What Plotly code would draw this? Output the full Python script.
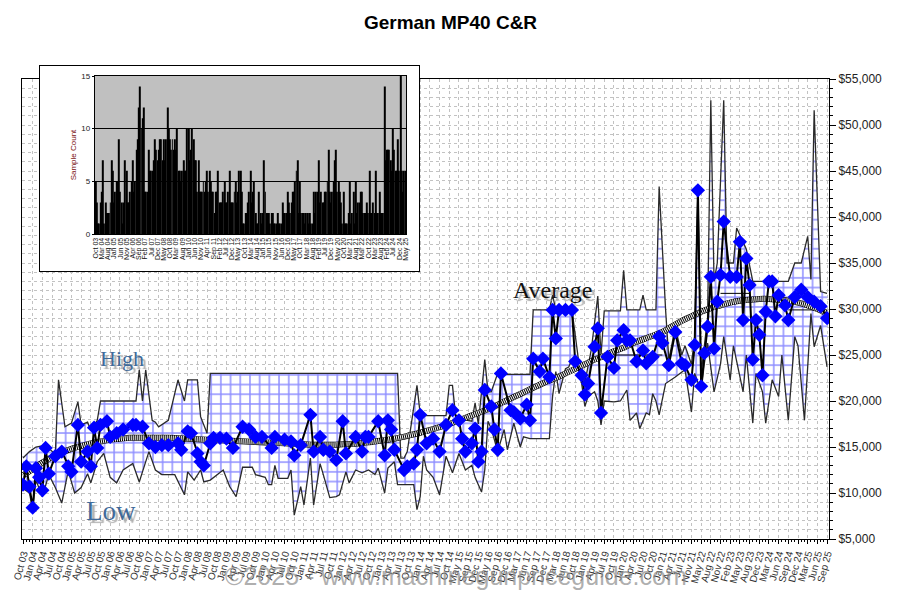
import plotly.graph_objects as go

# ---------------- data ----------------
x_labels = ["Oct 03","Jan 04","Apr 04","Jul 04","Oct 04","Jan 05","Apr 05","Jul 05","Oct 05","Jan 06","Apr 06","Jul 06",
            "Oct 06","Jan 07","Apr 07","Jul 07","Oct 07","Jan 08","Apr 08","Jul 08","Oct 08","Jan 09","Apr 09","Jul 09",
            "Oct 09","Jan 10","Apr 10","Jul 10","Oct 10","Jan 11","Apr 11","Jul 11","Oct 11","Jan 12","Apr 12","Jul 12",
            "Oct 12","Jan 13","Apr 13","Jul 13","Oct 13","Jan 14","Apr 14","Jul 14","Oct 14","May 15","Sep 15","Dec 15",
            "May 16","Sep 16","Dec 16","Mar 17","Jun 17","Sep 17","Dec 17","Mar 18","Jun 18","Oct 18","Jan 19","Apr 19",
            "Jul 19","Oct 19","Jan 20","Apr 20","Jul 20","Oct 20","Jan 21","Apr 21","Jul 21","Nov 21","May 22","Aug 22",
            "Nov 22","Feb 23","May 23","Aug 23","Dec 23","Mar 24","Jun 24","Sep 24","Dec 24","Mar 25","Jun 25","Sep 25"]
months_per_label = 3

# average sale price (period index, value)
avg_x = [0,1,2,3,4,5,6,7,8,10,12,14,15,17,18,20,21,22,23,24,26,27,29,31,34,35,37,39,41,43,45,48,49,51,52,54,55,56,58,59,
         61,63,65,68,70,72,74,77,78,81,83,84,86,89,90,92,93,95,97,99,100,103,105,106,107,110,112,113,114,115,118,119,121,
         122,123,125,127,129,131,133,135,136,137,139,140,141,142,143,145,146,147,148,151,152,154,156,157,158,160,161,163,
         164,165,166,168,170,171,173,174,175,177,178,179,181,183,184,186,187,188,190,192,193,195,197,198,200,202,204,205,
         207,208,209,210,211,212,213,214,215,216,217,219,221,222,223,224,225,226,227,228,229,230,231,232,233,234,236,237,
         239,241,243,245,247,249]
avg_v = [10900,12900,10700,8400,12700,11700,10300,14900,12100,14000,14500,12900,12300,17400,13400,14500,12900,17100,14900,17400,
         17800,16100,16500,16900,17400,17400,17200,15400,15000,15200,15200,15400,14700,16700,16500,14300,13400,13000,15400,16000,
         16000,15900,14900,17200,16900,16100,16100,14900,16100,15800,15600,14100,15200,18500,14500,16100,14700,14500,13600,17800,
         14300,16100,14500,16100,16100,17800,14100,17900,16900,14700,12500,12900,13200,14700,18500,15400,15900,14500,17400,19000,
         17900,15900,14500,15400,17000,13400,14500,21200,19400,16900,14700,23000,19000,18800,18100,19600,17900,24600,23200,24600,
         22600,29900,26800,29900,29900,29900,24300,22800,20700,21900,25900,27900,18700,24800,23600,26600,27700,26600,26600,24300,
         25500,24100,24800,27000,26300,23900,27500,24100,23900,22300,26100,42900,21600,25200,28100,33500,25700,30800,33700,39500,
         33500,33500,37300,28800,35500,32600,24500,28800,27200,22800,29700,33000,33000,29200,31500,30400,28800,31300,32100,31300,
         30800,30300,29000]

# high envelope
hi_x = [0,2,4,7,10,11,13,15,17,18,20,21,23,24,35,36,37,38,40,41,42,45,48,50,51,54,55,57,58,116,117,118,119,122,123,124,131,
        132,133,134,136,139,140,141,143,144,145,147,148,149,157,158,163,164,165,170,172,174,176,178,179,180,185,186,187,191,
        192,193,196,197,199,200,202,204,205,207,208,209,210,211,212,213,214,215,217,218,220,221,222,224,226,237,239,241,243,
        244,245,247,249]
hi_v = [13800,14500,15000,15200,14200,22300,17200,17600,19900,17400,17700,16800,17900,20000,20000,23400,20000,23400,17900,17700,
        17200,17900,22300,20000,22300,22300,18300,16500,23000,23000,13800,13800,14500,21700,18600,18400,18400,21700,21700,18300,
        18000,17800,19800,17500,24500,21000,21000,23000,23200,22900,22900,29900,29900,31500,29900,29900,24500,22000,25600,31400,
        25000,29800,29800,34200,29900,29900,31500,29900,29900,43300,29900,24500,28000,25000,26000,24000,27000,43000,23000,26000,
        29000,52700,33000,35000,52700,35000,35000,38800,38000,36500,33000,33000,35000,35000,37900,33200,51600,31900,31700]

# low envelope
lo_x = [0,2,3,4,6,8,10,12,14,16,18,20,21,23,25,27,29,31,34,36,37,39,41,43,47,50,51,53,55,56,58,60,62,64,66,68,71,72,75,76,
        77,78,79,82,83,84,86,87,89,90,92,93,95,97,98,100,101,103,105,107,109,110,112,113,115,116,121,122,123,124,125,127,
        129,131,133,135,137,139,140,142,143,144,145,147,149,150,152,154,155,157,163,164,165,166,168,169,170,172,173,174,175,
        177,178,179,180,183,185,187,188,190,191,193,194,195,196,197,199,202,205,207,208,210,211,212,214,216,217,219,220,223,
        224,226,227,229,230,232,234,235,237,239,240,242,244,245,247,249]
lo_v = [10500,10000,8200,11400,9600,12000,10600,8900,12400,10000,10600,12100,11100,13400,14300,11700,11100,12500,13200,11200,
        12300,14500,12500,12000,12000,9800,12300,11400,12500,11200,11400,12000,12500,10700,9600,12800,12800,12000,11700,10900,
        10900,13000,11600,11600,12500,7600,10700,8700,13800,8700,13200,12000,9500,9600,9800,12300,11100,12500,12200,12500,
        12000,12700,10000,12700,13400,10900,10900,8200,9600,14000,12500,11700,9800,14000,12200,14300,12500,13000,11700,10100,
        12500,17800,17000,14500,16900,14700,17600,15000,16100,15900,15900,20500,23200,20800,23500,23700,24500,23500,21900,19400,
        20500,21000,20000,17400,20000,19900,20000,21200,17900,18700,17000,18700,18500,20800,20000,18500,21900,22600,23400,18800,
        23000,21000,24100,26300,21000,24000,27000,22300,26000,21000,25000,17600,23000,21000,17600,22300,20500,25000,17900,27000,
        26000,17900,29500,25900,28200,23700]

# inner step (low) segments, by label index
step_lo_k = [61, 66, None, 72, 75, None, 79, 83]
step_lo_v = [25000, 25000, None, 31700, 31700, None, 29900, 29900]

# trend, one value per x label
trend = [11900,12600,13300,13900,14400,14800,15100,15400,15600,15800,15900,16000,16000,16000,16000,16000,15950,15900,15850,15800,
         15750,15700,15650,15600,15550,15500,15450,15400,15350,15300,15250,15250,15250,15300,15350,15450,15550,15700,15850,16050,
         16300,16550,16850,17150,17500,17900,18300,18700,19100,19600,20100,20600,21100,21600,22100,22500,23000,23500,24000,24500,
         24900,25400,25800,26300,26700,27100,27500,28100,28700,29200,29700,30100,30400,30700,30900,31000,31100,31100,31000,30900,
         30700,30400,30000,29500]

y_ticks = [5000,10000,15000,20000,25000,30000,35000,40000,45000,50000,55000]

# inset: monthly sample count
counts = [5,3,1,1,3,4,7,1,3,
          2,2,2,3,7,6,3,4,5,5,
          9,4,3,1,3,7,6,3,
          3,4,5,7,4,5,8,9,
          12,14,10,11,12,4,4,4,8,6,
          6,6,7,9,8,7,8,9,9,7,
          9,7,9,12,10,9,8,9,8,9,
          8,10,6,6,5,6,7,6,6,10,
          10,7,8,10,9,7,7,4,7,4,
          4,4,5,4,5,6,4,6,5,4,
          4,2,4,4,6,3,3,3,4,5,
          3,3,4,6,3,3,3,4,5,3,
          4,6,6,4,1,1,2,2,3,4,
          6,3,4,5,2,1,1,4,2,1,
          2,7,4,2,2,2,1,2,2,1,
          1,1,2,1,1,1,3,2,2,2,
          4,3,2,3,4,4,5,6,7,2,
          5,2,2,2,1,2,2,1,2,
          1,1,4,2,4,4,7,3,4,3,
          3,4,4,5,8,4,3,4,5,7,
          8,4,5,4,3,1,4,1,1,1,
          2,5,1,2,4,1,5,2,
          3,3,4,4,2,2,2,3,2,6,
          2,2,3,2,6,2,2,4,2,2,
          2,14,7,8,8,8,7,6,10,8,
          6,6,9,6,15,6,4,6,6]
inset_labels = ["Oct 03","Mar 04","Aug 04","Jan 05","Jun 05","Nov 05","Apr 06","Sep 06","Feb 07","Jul 07","Dec 07",
                "May 08","Oct 08","Mar 09","Aug 09","Jan 10","Jun 10","Nov 10","Apr 11","Sep 11","Feb 12","Jul 12",
                "Dec 12","May 13","Oct 13","Mar 14","Aug 14","Jan 15","Jun 15","Nov 15","Jun 16","Dec 16","May 17",
                "Oct 17","Mar 18","Aug 18","Feb 19","Jul 19","Dec 19","May 20","Oct 20","Mar 21","Aug 21","Mar 22",
                "Oct 22","Mar 23","Aug 23","Feb 24","Jul 24","Dec 24","May 25"]
months_per_inset_label = 5

# ---------------- figure ----------------
FONT = "Arial, Liberation Sans, sans-serif"
SERIF = "Times New Roman, Liberation Serif, serif"

label_pos = [i * months_per_label for i in range(len(x_labels))]
step_x = [None if k is None else k * months_per_label for k in step_lo_k]

fig = go.Figure()

# hatched band between high and low
fig.add_trace(go.Scatter(
    x=hi_x + lo_x[::-1], y=hi_v + lo_v[::-1], fill="toself", mode="lines",
    line=dict(width=0, color="rgba(0,0,0,0)"),
    fillcolor="white",
    fillpattern=dict(shape="+", fgcolor="#1a1aff", bgcolor="white", size=9.7, solidity=0.28),
    hoverinfo="skip", showlegend=False))

fig.add_trace(go.Scatter(x=hi_x, y=hi_v, mode="lines", line=dict(color="#2a2a2a", width=1.3),
                         hoverinfo="skip", showlegend=False))
fig.add_trace(go.Scatter(x=lo_x, y=lo_v, mode="lines", line=dict(color="#2a2a2a", width=1.3),
                         hoverinfo="skip", showlegend=False))
fig.add_trace(go.Scatter(x=step_x, y=step_lo_v, mode="lines", line=dict(color="black", width=1),
                         connectgaps=False, hoverinfo="skip", showlegend=False))

# checkered trend
fig.add_trace(go.Scatter(x=label_pos, y=trend, mode="lines", line=dict(color="black", width=6, shape="spline"),
                         hoverinfo="skip", showlegend=False))
fig.add_trace(go.Scatter(x=label_pos, y=trend, mode="lines",
                         line=dict(color="white", width=5, dash="1px,1px", shape="spline"),
                         hoverinfo="skip", showlegend=False))

# average
fig.add_trace(go.Scatter(x=avg_x, y=avg_v, mode="lines+markers",
                         line=dict(color="black", width=2),
                         marker=dict(symbol="diamond", size=11, color="#0000ff", line=dict(width=0)),
                         showlegend=False))

# inset cover (white box) subplot
fig.add_trace(go.Scatter(x=[0.5], y=[0.5], xaxis="x2", yaxis="y2", mode="markers",
                         marker=dict(opacity=0), hoverinfo="skip", showlegend=False))
# inset bars
fig.add_trace(go.Bar(x=list(range(len(counts))), y=counts, xaxis="x3", yaxis="y3",
                     marker=dict(color="black", line=dict(width=0)), width=0.8, showlegend=False))

W, H = 901, 613
ML, MR, MT, MB = 20, 72, 60, 74
pw, ph = W - ML - MR, H - MT - MB


def px_x(p):
    return (p - ML) / pw


def px_y(p):
    return (H - MB - p) / ph


n = len(counts)
y_text = ["${:,}".format(v) for v in y_ticks]

fig.update_layout(
    width=W, height=H, autosize=False,
    margin=dict(l=ML, r=MR, t=MT, b=MB),
    paper_bgcolor="white", plot_bgcolor="white",
    font=dict(family=FONT, color="#222"),
    title=dict(text="<b>German MP40 C&R</b>", x=0.5, xref="container", y=1 - 22 / H, yanchor="middle",
               font=dict(family=FONT, size=19, color="black")),
    xaxis=dict(domain=[0, 1], anchor="y", range=[-0.31, 249.6],
               tickmode="array", tickvals=label_pos, ticktext=x_labels, tickangle=-75,
               tickfont=dict(family=FONT, size=10, color="#333"),
               ticks="outside", ticklen=4, tickcolor="black",
               showline=True, mirror=True, linecolor="black", linewidth=1,
               showgrid=True, gridcolor="#c2c2c2", griddash="dot", gridwidth=1, zeroline=False,
               minor=dict(dtick=1, tick0=0, ticks="outside", ticklen=2, tickcolor="black", showgrid=False)),
    yaxis=dict(domain=[0, px_y(79)], anchor="x", side="right", range=[5000, 55000],
               tickmode="array", tickvals=y_ticks, ticktext=y_text,
               tickfont=dict(family=FONT, size=12, color="#222"),
               ticks="outside", ticklen=6, tickcolor="black",
               showline=True, mirror=True, linecolor="black", linewidth=1,
               showgrid=True, gridcolor="#c2c2c2", griddash="dot", gridwidth=1, zeroline=False,
               minor=dict(dtick=1000, tick0=0, ticks="outside", ticklen=3, tickcolor="black",
                          showgrid=True, gridcolor="#c2c2c2", griddash="dot", gridwidth=1)),
    xaxis2=dict(domain=[px_x(38), px_x(418)], anchor="y2", range=[0, 1], showticklabels=False, ticks="",
                showgrid=False, zeroline=False, showline=True, mirror=True, linecolor="black", linewidth=1),
    yaxis2=dict(domain=[px_y(271), px_y(66)], anchor="x2", range=[0, 1], showticklabels=False, ticks="",
                showgrid=False, zeroline=False, showline=True, mirror=True, linecolor="black", linewidth=1),
    xaxis3=dict(domain=[px_x(93), px_x(405)], anchor="y3", range=[-0.5, n - 0.5],
                tickmode="array", tickvals=[i * months_per_inset_label for i in range(len(inset_labels))],
                ticktext=inset_labels, tickangle=-90, tickfont=dict(family=FONT, size=7, color="#111"),
                ticks="", showgrid=False, zeroline=False, showline=True, mirror=True, linecolor="black", linewidth=1),
    yaxis3=dict(domain=[px_y(234), px_y(76)], anchor="x3", range=[0, 15], tickmode="array", tickvals=[0, 5, 10, 15],
                tickfont=dict(family=FONT, size=8, color="#222"), ticks="outside", ticklen=2, tickcolor="black",
                showgrid=True, gridcolor="black", gridwidth=1, zeroline=False,
                showline=True, mirror=True, linecolor="black", linewidth=1,
                title=dict(text="Sample Count", font=dict(family=FONT, size=8, color="#7a1010"), standoff=3)),
    bargap=0.15,
    shapes=[
        dict(type="rect", xref="x2", yref="y2", x0=0, x1=1, y0=0, y1=1, fillcolor="white",
             line=dict(width=0), layer="below"),
        dict(type="rect", xref="x3", yref="y3", x0=-0.5, x1=n - 0.5, y0=0, y1=15, fillcolor="#c0c0c0",
             line=dict(width=0), layer="below"),
    ],
)

anns = []


def label(text, cx, cy, size, color):
    anns.append(dict(text=text, x=px_x(cx), y=px_y(cy), xref="paper", yref="paper", showarrow=False,
                     xanchor="center", yanchor="middle",
                     font=dict(family=SERIF, size=size, color=color, shadow="3px 3px 1px #b0b0b0")))


label("High", 120, 358, 22, "#3f6a99")
label("Low", 109, 511, 27, "#3f6a99")
label("Average", 552, 290, 24, "#111111")
anns.append(dict(text="©2025 - www.machinegunpriceguide.com", x=px_x(455), y=px_y(576), xref="paper", yref="paper",
                 showarrow=False, xanchor="center", yanchor="middle",
                 font=dict(family=FONT, size=25, color="rgba(140,140,140,0.7)")))
fig.update_layout(annotations=anns)

fig.write_html("out.html")
